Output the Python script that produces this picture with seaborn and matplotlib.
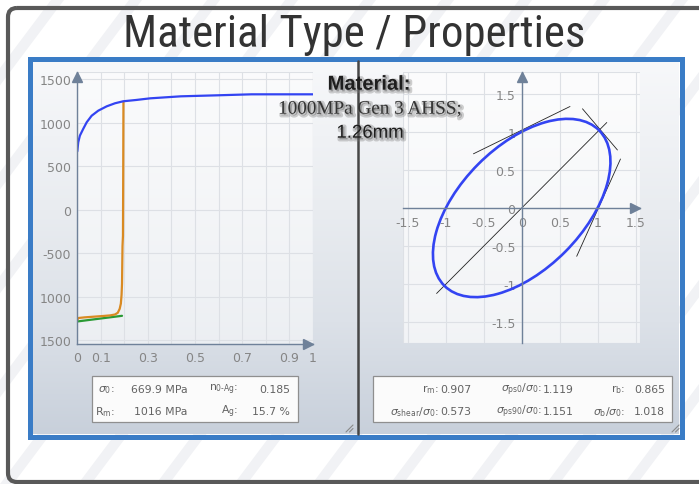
import numpy as np
import pandas as pd
import seaborn as sns
import matplotlib
matplotlib.use("Agg")
import matplotlib.pyplot as plt
import matplotlib.patheffects as pe
from matplotlib import font_manager as fm
from matplotlib.patches import Rectangle, FancyBboxPatch, Ellipse, Polygon
from matplotlib.colors import LinearSegmentedColormap

# ---------------- data ----------------
# flow curve (true strain vs. true stress, MPa)
flow_strain = [0.0, 0.004, 0.011, 0.025, 0.04, 0.061, 0.089, 0.125, 0.16, 0.195,
               0.25, 0.31, 0.44, 0.6, 0.74, 1.0]
flow_stress = [670, 775, 851, 928, 1005, 1080, 1138, 1188, 1223, 1246,
               1261, 1280, 1303, 1315, 1326, 1326]

# test curve
test_strain = [0.0, 0.005, 0.03, 0.07, 0.11, 0.14, 0.16, 0.172, 0.180, 0.185,
               0.188, 0.190, 0.192, 0.194, 0.195, 0.196]
test_stress = [-1265, -1245, -1238, -1230, -1222, -1215, -1205, -1185, -1140, -1080,
               -980, -850, -420, -300, 400, 1240]

# reference line
ref_strain = [0.0, 0.19]
ref_stress = [-1285, -1220]

left_xticks = [0, 0.1, 0.2, 0.3, 0.4, 0.5, 0.6, 0.7, 0.8, 0.9, 1.0]
left_xlabels = ["0", "0.1", "", "0.3", "", "0.5", "", "0.7", "", "0.9", "1"]
left_yticks = [1500, 1000, 500, 0, -500, -1000, -1500]
left_ylabels = ["1500", "1000", "500", "0", "-500", "1000", "1500"]

# yield locus
sigma_b_ratio = 1.018      # equi-biaxial / sigma0
sigma_shear_ratio = 0.573  # shear / sigma0
locus_angle = 45

diag_x = [-1.12, 1.12]
diag_y = [-1.12, 1.12]
tangent_segments = [
    ([-0.635, 0.636], [0.71, 1.33]),
    ([0.80, 1.26], [1.30, 0.76]),
    ([0.724, 1.30], [-0.633, 0.642]),
]
right_ticks = [-1.5, -1.0, -0.5, 0.0, 0.5, 1.0, 1.5]
right_labels = ["-1.5", "-1", "-0.5", "0", "0.5", "1", "1.5"]

# property tables
left_names = [r"$\sigma_0$:", "$\\mathrm{n_{0\u2010Ag}}$:", r"$\mathrm{R_m}$:", r"$\mathrm{A_g}$:"]
left_values = ["669.9 MPa", "0.185", "1016 MPa", "15.7 %"]
right_names = [r"$\mathrm{r_m}$:", r"$\sigma_{\mathrm{ps0}}/\sigma_0$:", r"$\mathrm{r_b}$:",
               r"$\sigma_{\mathrm{shear}}/\sigma_0$:", r"$\sigma_{\mathrm{ps90}}/\sigma_0$:",
               r"$\sigma_\mathrm{b}/\sigma_0$:"]
right_values = ["0.907", "1.119", "0.865", "0.573", "1.151", "1.018"]

material_title = "Material:"
material_grade = "1000MPa Gen 3 AHSS;"
material_gauge = "1.26mm"

# ---------------- style ----------------
sns.set_style("white")
plt.rcParams["font.family"] = ["DejaVu Sans"]
plt.rcParams["mathtext.fontset"] = "dejavusans"

available = {f.name for f in fm.fontManager.ttflist}
title_family = next((n for n in ["Liberation Sans Narrow", "Roboto Condensed",
                                 "Open Sans Condensed", "Noto Sans Condensed"]
                     if n in available), "Liberation Sans")

BLUE = "#3344f2"
AXIS = "#6f8199"
GRID = "#dde0e5"
TICK = "#858585"
W, H = 699, 485

fig = plt.figure(figsize=(W / 100, H / 100), dpi=100)

# background layer in pixel coordinates
bg = fig.add_axes([0, 0, 1, 1], zorder=0)
bg.set_facecolor("white")
for i in range(-8, 14):
    x0 = i * 78
    bg.add_patch(Polygon([(x0, H), (x0 + 13, H), (x0 + 13 + H * 0.75, 0), (x0 + H * 0.75, 0)],
                         closed=True, fc="#f1f2f5", ec="none", zorder=0))

bg.add_patch(FancyBboxPatch((8, 9), 730, 474, boxstyle="round,pad=0,rounding_size=9",
                            fc="none", ec="#595959", lw=3.0, zorder=1))

title = bg.text(354.5, 47, "Material Type / Properties", ha="center", va="baseline",
                fontsize=30, family=title_family, weight="normal", color="#333333", zorder=2)

panel_cmap = LinearSegmentedColormap.from_list(
    "panel", [(0, "#f7f8fa"), (0.4, "#e9ecf0"), (0.7, "#dce1e8"), (1, "#c8d0db")])
grad = np.linspace(0, 1, 256).reshape(-1, 1)
bg.imshow(grad, extent=(32, 679, 435, 62), cmap=panel_cmap, aspect="auto",
          interpolation="bilinear", zorder=2)
bg.add_patch(Rectangle((29.5, 59.5), 652, 378, fill=False, ec="#3a7cc6", lw=3.6, zorder=3))

# property boxes
bg.add_patch(Rectangle((92.3, 376.7), 205.4, 46.6, fc="#fbfbfb", ec="#8f8f8f", lw=0.9, zorder=3))
bg.add_patch(Rectangle((373.3, 376.7), 298.4, 46.6, fc="#fbfbfb", ec="#8f8f8f", lw=0.9, zorder=3))
txt = dict(ha="right", va="center", fontsize=7.8, color="#626262", zorder=4)
rows = [390, 412.3]
for k, (nx, vx) in enumerate([(114.3, 187.7), (238, 290)]):
    for r in range(2):
        bg.text(nx, rows[r], left_names[r * 2 + k], **txt)
        bg.text(vx, rows[r], left_values[r * 2 + k], **txt)
for k, (nx, vx) in enumerate([(438.3, 471.7), (541.7, 574), (625, 665)]):
    for r in range(2):
        bg.text(nx, rows[r], right_names[r * 3 + k], **txt)
        bg.text(vx, rows[r], right_values[r * 3 + k], **txt)

# resize grips
for gx in (353, 679):
    for d in (0, 3.5):
        bg.plot([gx - 7 + d, gx], [433, 426 + d], color="#8a8a8a", lw=0.8, zorder=4)

bg.set_xlim(0, W)
bg.set_ylim(H, 0)
bg.axis("off")


def style_axes(ax):
    ax.set_facecolor((1, 1, 1, 0.5))
    ax.grid(True, color=GRID, lw=0.8)
    ax.set_axisbelow(True)
    ax.tick_params(length=0, labelsize=9, labelcolor=TICK)
    for s in ("top", "right"):
        ax.spines[s].set_visible(False)
    for s in ("left", "bottom"):
        ax.spines[s].set_color(AXIS)
        ax.spines[s].set_linewidth(1.0)
        ax.spines[s].set_zorder(3)
    ax.add_patch(Rectangle((0, 0), 1, 1, transform=ax.transAxes, fill=False,
                           ec=GRID, lw=0.8, zorder=0.5))


# ---------------- flow curve panel ----------------
axL = fig.add_axes([77.3 / W, 1 - 345 / H, (312.7 - 77.3) / W, (345 - 72.7) / H], zorder=2)
style_axes(axL)
flow = pd.DataFrame({"strain": flow_strain, "stress": flow_stress})
test = pd.DataFrame({"strain": test_strain, "stress": test_stress})
ref = pd.DataFrame({"strain": ref_strain, "stress": ref_stress})
sns.lineplot(data=ref, x="strain", y="stress", ax=axL, color="#2a9a35", lw=1.6,
             estimator=None, sort=False)
sns.lineplot(data=test, x="strain", y="stress", ax=axL, color="#d98a22", lw=1.6,
             estimator=None, sort=False)
sns.lineplot(data=flow, x="strain", y="stress", ax=axL, color=BLUE, lw=1.6,
             estimator=None, sort=False)
axL.set_xlim(0, 1.0)
axL.set_ylim(-1544, 1586)
axL.set_xticks(left_xticks, left_xlabels)
axL.set_yticks(left_yticks, left_ylabels)
axL.tick_params(axis="y", pad=4.5)
axL.tick_params(axis="x", pad=5)
axL.set_xlabel("")
axL.set_ylabel("")
axL.plot([0], [0.982], marker="^", ms=7, color=AXIS, transform=axL.transAxes, clip_on=False, zorder=4)
axL.plot([0.979], [0], marker=">", ms=7, color=AXIS, transform=axL.transAxes, clip_on=False, zorder=4)

# ---------------- yield locus panel ----------------
xl, yl = (-1.566, 1.557), (-1.769, 1.778)
axR = fig.add_axes([402.7 / W, 1 - 344 / H, (640 - 402.7) / W, (344 - 73.3) / H], zorder=2)
style_axes(axR)
axR.set_facecolor((1, 1, 1, 0.65))
axR.spines["left"].set_position(("data", 0))
axR.spines["bottom"].set_position(("data", 0))
axR.add_patch(Ellipse((0, 0), width=2 * sigma_b_ratio * np.sqrt(2),
                      height=2 * sigma_shear_ratio * np.sqrt(2), angle=locus_angle,
                      fill=False, ec=BLUE, lw=1.9, zorder=3))
sns.lineplot(x=diag_x, y=diag_y, ax=axR, color="#222222", lw=0.6, estimator=None, sort=False)
for sx, sy in tangent_segments:
    sns.lineplot(x=sx, y=sy, ax=axR, color="#222222", lw=0.6, estimator=None, sort=False)
axR.set_xlim(*xl)
axR.set_ylim(*yl)
axR.set_xticks(right_ticks, right_labels)
axR.set_yticks(right_ticks, right_labels)
axR.tick_params(axis="y", pad=4.5)
axR.tick_params(axis="x", pad=6)
x0_frac = -xl[0] / (xl[1] - xl[0])
y0_frac = -yl[0] / (yl[1] - yl[0])
axR.plot([x0_frac], [0.982], marker="^", ms=7, color=AXIS,
         transform=axR.transAxes, clip_on=False, zorder=4)
axR.plot([0.979], [y0_frac], marker=">", ms=7, color=AXIS,
         transform=axR.transAxes, clip_on=False, zorder=4)

# ---------------- overlay: material caption and divider ----------------
ov = fig.add_axes([0, 0, 1, 1], zorder=5)
ov.set_facecolor("none")
shadow = [pe.Stroke(linewidth=3.0, foreground="#7a7a7a", alpha=0.35, offset=(1.2, -1.2)), pe.Normal()]
ov.text(369, 90.7, material_title, ha="center", va="baseline", fontsize=14.5, weight="bold",
        family="Liberation Sans", color="#1e1e1e", path_effects=shadow)
ov.text(369.5, 114.7, material_grade, ha="center", va="baseline", fontsize=13.8,
        family="Liberation Serif", color="#333333", path_effects=shadow)
ov.text(370, 138.7, material_gauge, ha="center", va="baseline", fontsize=13.4,
        family="Liberation Sans", color="#1e1e1e", path_effects=shadow)
ov.plot([358, 358], [62, 435], color="#474747", lw=1.8)
ov.set_xlim(0, W)
ov.set_ylim(H, 0)
ov.axis("off")

# fit the heading to its box width
fig.canvas.draw()
w = title.get_window_extent().width
title.set_fontsize(30 * 463 / w)

fig.savefig("out.png", dpi=100)
